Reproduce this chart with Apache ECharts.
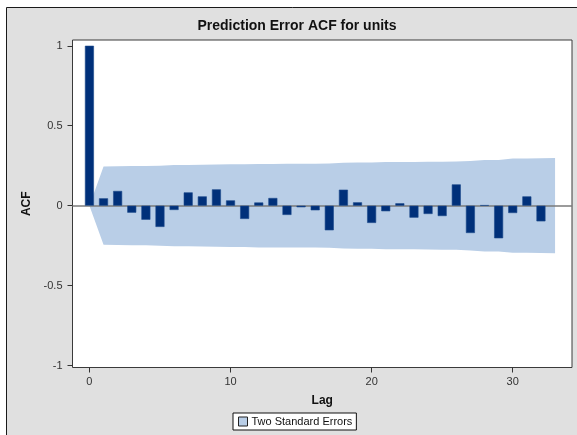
<!DOCTYPE html>
<html>
<head>
<meta charset="utf-8">
<script src="https://cdn.jsdelivr.net/npm/echarts@6/dist/echarts.min.js"></script>
<style>
  html, body { margin: 0; padding: 0; background: #ffffff; }
  #chart { width: 577px; height: 435px; }
</style>
</head>
<body>
<div id="chart"></div>
<script>
// Residual autocorrelations by lag
const lags = [0, 1, 2, 3, 4, 5, 6, 7, 8, 9, 10, 11, 12, 13, 14, 15, 16,
              17, 18, 19, 20, 21, 22, 23, 24, 25, 26, 27, 28, 29, 30, 31, 32];
const acfValues = [1.0, 0.046, 0.092, -0.044, -0.088, -0.133, -0.027, 0.083, 0.058, 0.102, 0.033,
                   -0.083, 0.020, 0.048, -0.058, -0.010, -0.029, -0.154, 0.100, 0.021, -0.108,
                   -0.035, 0.015, -0.075, -0.052, -0.065, 0.133, -0.171, 0.003, -0.204, -0.046,
                   0.058, -0.098];

// Two-standard-error band half width per lag
const bandLags = [0, 1, 2, 3, 4, 5, 6, 7, 8, 9, 10, 11, 12, 13, 14, 15, 16,
                  17, 18, 19, 20, 21, 22, 23, 24, 25, 26, 27, 28, 29, 30, 31, 32, 33];
const bandHalfWidth = [0, 0.245, 0.246, 0.248, 0.248, 0.250, 0.254, 0.254, 0.256, 0.257, 0.259,
                       0.259, 0.261, 0.261, 0.262, 0.262, 0.262, 0.263, 0.268, 0.270, 0.270,
                       0.273, 0.273, 0.273, 0.274, 0.275, 0.276, 0.280, 0.286, 0.286, 0.295,
                       0.295, 0.296, 0.298];

const yTicks = [-1, -0.5, 0, 0.5, 1];
const xTicks = [0, 10, 20, 30];

const FONT = '"Liberation Sans", Arial, sans-serif';
const BAR_COLOR = '#00307a';
const BAND_COLOR = '#b9cee7';

const chart = echarts.init(document.getElementById('chart'), null, { renderer: 'canvas' });

chart.setOption({
  animation: false,
  backgroundColor: '#ffffff',
  graphic: [{
    type: 'rect',
    z: -10,
    silent: true,
    shape: { x: 6.5, y: 7.5, width: 600, height: 460 },
    style: { fill: '#e0e0e0', stroke: '#1a1a1a', lineWidth: 1 }
  }],
  title: {
    text: 'Prediction Error ACF for units',
    left: 292,
    textAlign: 'center',
    top: 14,
    textStyle: { fontFamily: FONT, fontSize: 14, fontWeight: 'bold', color: '#111' }
  },
  legend: {
    left: 233,
    top: 413,
    data: [{
      name: 'Two Standard Errors',
      icon: 'rect',
      itemStyle: { color: BAND_COLOR, borderColor: '#222', borderWidth: 1 }
    }],
    itemWidth: 9,
    itemHeight: 9,
    backgroundColor: '#ffffff',
    borderColor: '#111',
    borderWidth: 1,
    borderRadius: 0,
    padding: [3, 4, 3, 5],
    textStyle: { fontFamily: FONT, fontSize: 11, color: '#111', padding: [0, 0, 0, -1] }
  },
  grid: {
    left: 72.5,
    top: 40,
    right: 5,
    bottom: 67.5,
    show: true,
    backgroundColor: '#ffffff',
    borderColor: '#3a3a3a',
    borderWidth: 1
  },
  xAxis: {
    type: 'value',
    min: -1.2,
    max: 34.2,
    name: 'Lag',
    nameLocation: 'middle',
    nameGap: 27,
    nameTextStyle: { fontFamily: FONT, fontSize: 12, fontWeight: 'bold', color: '#111' },
    axisLine: { show: false, onZero: false },
    splitLine: { show: false },
    axisTick: { show: true, length: 5, customValues: xTicks, lineStyle: { color: '#333' } },
    axisLabel: { customValues: xTicks, margin: 9, fontFamily: FONT, fontSize: 11, color: '#333' }
  },
  yAxis: {
    type: 'value',
    min: -1.012,
    max: 1.036,
    name: 'ACF',
    nameLocation: 'middle',
    nameGap: 40,
    nameRotate: 90,
    nameTextStyle: { fontFamily: FONT, fontSize: 12, fontWeight: 'bold', color: '#111' },
    axisLine: { show: false, onZero: false },
    splitLine: { show: false },
    axisTick: { show: true, length: 5, customValues: yTicks, lineStyle: { color: '#333' } },
    axisLabel: { customValues: yTicks, margin: 10, fontFamily: FONT, fontSize: 11, color: '#333' }
  },
  series: [
    {
      name: 'Two Standard Errors',
      type: 'custom',
      clip: true,
      z: 1,
      data: [[0, 0]],
      renderItem: function (params, api) {
        const pts = [];
        for (let i = 0; i < bandLags.length; i++) {
          pts.push(api.coord([bandLags[i], bandHalfWidth[i]]));
        }
        for (let i = bandLags.length - 1; i >= 0; i--) {
          pts.push(api.coord([bandLags[i], -bandHalfWidth[i]]));
        }
        return {
          type: 'polygon',
          shape: { points: pts },
          style: { fill: BAND_COLOR }
        };
      }
    },
    {
      name: 'ACF',
      type: 'bar',
      z: 3,
      barWidth: 9,
      data: lags.map((l, i) => [l, acfValues[i]]),
      itemStyle: { color: BAR_COLOR, borderColor: '#1c4a8c', borderWidth: 0.6 },
      markLine: {
        silent: true,
        symbol: 'none',
        z: 2,
        label: { show: false },
        lineStyle: { color: '#7a7a7a', width: 1.5, type: 'solid' },
        data: [{ yAxis: 0 }]
      }
    }
  ]
});
</script>
</body>
</html>
